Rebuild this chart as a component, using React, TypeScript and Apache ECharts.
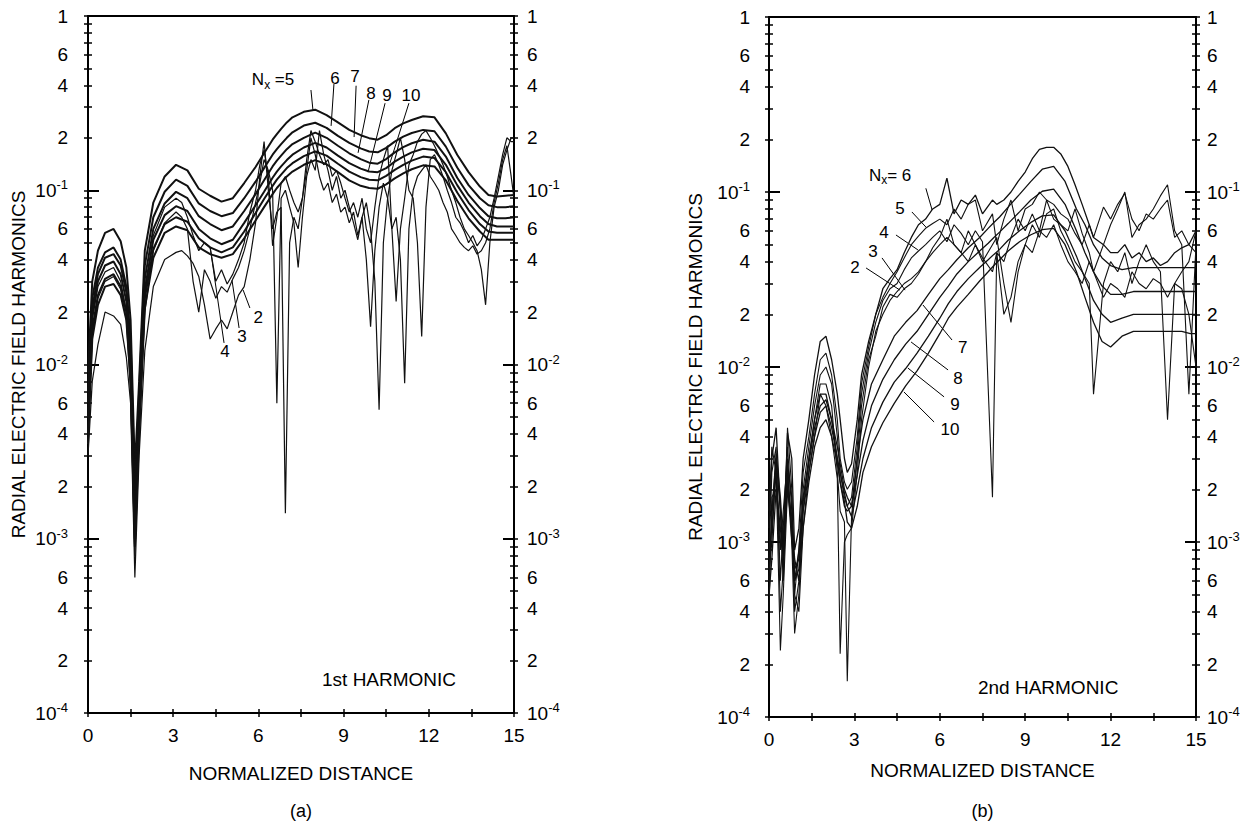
import React, { useEffect, useRef } from 'react';
import * as echarts from 'echarts';

const FONT = '"Liberation Sans", Arial, sans-serif';

// ---------- Panel (a): 1st harmonic ----------
// smooth family N_x = 5..10
const xA = [0, 0.15, 0.35, 0.6, 0.9, 1.15, 1.35, 1.5, 1.65, 1.8, 2.0, 2.3, 2.7, 3.1, 3.5, 3.9, 4.3, 4.7, 5.1, 5.5, 5.9, 6.2, 6.5, 6.65, 6.8, 7.0, 7.2, 7.6, 8.0, 8.4, 8.8, 9.2, 9.6, 9.9, 10.2, 10.5, 10.8, 11.1, 11.4, 11.8, 12.2, 12.6, 13.0, 13.4, 13.8, 14.1, 14.4, 14.7, 15.0];
const a5 = [0.009, 0.03, 0.045, 0.057, 0.06, 0.051, 0.036, 0.018, 0.0025, 0.008, 0.045, 0.085, 0.12, 0.14, 0.13, 0.102, 0.093, 0.086, 0.09, 0.11, 0.136, 0.163, 0.195, 0.21, 0.225, 0.245, 0.262, 0.282, 0.29, 0.27, 0.245, 0.222, 0.207, 0.199, 0.195, 0.207, 0.227, 0.242, 0.253, 0.266, 0.262, 0.212, 0.16, 0.127, 0.105, 0.094, 0.092, 0.093, 0.094];
const a6 = [0.007, 0.024, 0.036, 0.044, 0.047, 0.04, 0.028, 0.014, 0.0018, 0.007, 0.037, 0.07, 0.098, 0.115, 0.106, 0.084, 0.076, 0.071, 0.074, 0.09, 0.112, 0.134, 0.16, 0.172, 0.184, 0.2, 0.215, 0.235, 0.244, 0.228, 0.205, 0.187, 0.174, 0.167, 0.165, 0.175, 0.19, 0.203, 0.213, 0.222, 0.218, 0.178, 0.135, 0.107, 0.09, 0.082, 0.08, 0.08, 0.081];
const a7 = [0.006, 0.021, 0.033, 0.041, 0.043, 0.037, 0.026, 0.012, 0.0015, 0.006, 0.031, 0.06, 0.084, 0.098, 0.09, 0.071, 0.064, 0.059, 0.062, 0.076, 0.095, 0.114, 0.137, 0.148, 0.158, 0.172, 0.184, 0.2, 0.214, 0.2, 0.18, 0.163, 0.151, 0.144, 0.142, 0.151, 0.165, 0.177, 0.186, 0.195, 0.19, 0.156, 0.118, 0.094, 0.079, 0.071, 0.069, 0.069, 0.07];
const a8 = [0.005, 0.019, 0.03, 0.037, 0.039, 0.033, 0.023, 0.011, 0.0012, 0.005, 0.027, 0.052, 0.072, 0.081, 0.076, 0.06, 0.053, 0.049, 0.052, 0.065, 0.082, 0.098, 0.118, 0.128, 0.137, 0.149, 0.16, 0.176, 0.187, 0.176, 0.158, 0.143, 0.133, 0.128, 0.127, 0.134, 0.146, 0.156, 0.165, 0.173, 0.17, 0.14, 0.107, 0.085, 0.071, 0.064, 0.062, 0.062, 0.062];
const a9 = [0.004, 0.016, 0.025, 0.031, 0.033, 0.028, 0.02, 0.009, 0.001, 0.0045, 0.024, 0.046, 0.064, 0.07, 0.066, 0.053, 0.047, 0.044, 0.047, 0.058, 0.074, 0.089, 0.106, 0.115, 0.123, 0.134, 0.143, 0.157, 0.167, 0.158, 0.142, 0.128, 0.119, 0.115, 0.114, 0.121, 0.131, 0.14, 0.148, 0.156, 0.153, 0.127, 0.097, 0.077, 0.064, 0.058, 0.057, 0.057, 0.057];
const a10 = [0.0035, 0.014, 0.022, 0.028, 0.029, 0.025, 0.018, 0.008, 0.0009, 0.004, 0.021, 0.041, 0.057, 0.062, 0.059, 0.047, 0.043, 0.041, 0.043, 0.053, 0.067, 0.08, 0.095, 0.103, 0.11, 0.12, 0.128, 0.14, 0.149, 0.141, 0.127, 0.114, 0.106, 0.103, 0.102, 0.108, 0.117, 0.125, 0.132, 0.139, 0.137, 0.114, 0.087, 0.069, 0.058, 0.052, 0.052, 0.052, 0.052];

// noisy curves N_x = 2..4 (finer sampling)
const xAn = [
  0, 0.15, 0.35, 0.6, 0.9, 1.15, 1.35, 1.5, 1.65, 1.8, 2.0, 2.3, 2.7, 3.1,
  3.3, 3.5, 3.7, 3.9, 4.1, 4.3, 4.5, 4.7, 4.9, 5.1, 5.3, 5.5, 5.7, 5.9,
  6.05, 6.2, 6.35, 6.5, 6.65, 6.8, 6.95, 7.1, 7.25, 7.4,
  7.55, 7.7, 7.85, 8.0, 8.15, 8.3, 8.45, 8.6, 8.75, 8.9,
  9.05, 9.2, 9.35, 9.5, 9.65, 9.8, 9.95, 10.1, 10.25, 10.4,
  10.55, 10.7, 10.85, 11.0, 11.15, 11.3, 11.45, 11.6, 11.75, 11.9,
  12.05, 12.2, 12.35, 12.5, 12.65, 12.8, 12.95, 13.1, 13.25, 13.4,
  13.55, 13.7, 13.85, 14.0, 14.15, 14.3, 14.45, 14.6, 14.75, 14.9,
  15.0,
];
const a2 = [
  0.003, 0.008, 0.013, 0.02, 0.019, 0.017, 0.011, 0.006, 0.0006, 0.003, 0.012, 0.028, 0.04, 0.044,
  0.045, 0.042, 0.038, 0.032, 0.022, 0.014, 0.016, 0.018, 0.016, 0.02, 0.025, 0.028, 0.04, 0.065,
  0.12, 0.19, 0.1, 0.06, 0.075, 0.08, 0.0014, 0.05, 0.07, 0.06,
  0.09, 0.13, 0.2, 0.16, 0.12, 0.1, 0.11, 0.085, 0.095, 0.075,
  0.08, 0.065, 0.075, 0.055, 0.07, 0.04, 0.0165, 0.045, 0.08, 0.11,
  0.09, 0.06, 0.07, 0.04, 0.0078, 0.06, 0.1, 0.12, 0.13, 0.14,
  0.12, 0.11, 0.1, 0.085, 0.075, 0.06, 0.055, 0.05, 0.047, 0.045,
  0.048, 0.043, 0.045, 0.05, 0.06, 0.085, 0.11, 0.15, 0.18, 0.12,
  0.09,
];
const a3 = [
  0.004, 0.015, 0.024, 0.03, 0.032, 0.027, 0.018, 0.007, 0.0008, 0.004, 0.02, 0.045, 0.065, 0.075,
  0.07, 0.06, 0.03, 0.02, 0.035, 0.03, 0.024, 0.028, 0.026, 0.031, 0.036, 0.045, 0.06, 0.085,
  0.11, 0.15, 0.13, 0.1, 0.006, 0.09, 0.1, 0.08, 0.065, 0.036,
  0.07, 0.12, 0.15, 0.13, 0.22, 0.16, 0.13, 0.1, 0.12, 0.09,
  0.1, 0.08, 0.065, 0.052, 0.07, 0.085, 0.06, 0.03, 0.0055, 0.05,
  0.09, 0.13, 0.16, 0.2, 0.15, 0.1, 0.09, 0.05, 0.0145, 0.08,
  0.15, 0.16, 0.14, 0.12, 0.1, 0.085, 0.07, 0.065, 0.058, 0.05,
  0.055, 0.048, 0.052, 0.06, 0.07, 0.09, 0.12, 0.16, 0.2, 0.19,
  0.19,
];
const a4 = [
  0.005, 0.018, 0.028, 0.034, 0.036, 0.03, 0.02, 0.009, 0.001, 0.005, 0.025, 0.055, 0.08, 0.09,
  0.085, 0.07, 0.055, 0.045, 0.05, 0.047, 0.03, 0.035, 0.029, 0.033, 0.04, 0.05, 0.075, 0.1,
  0.14, 0.17, 0.12, 0.048, 0.07, 0.11, 0.12, 0.1, 0.085, 0.075,
  0.09, 0.15, 0.22, 0.19, 0.16, 0.14, 0.15, 0.12, 0.13, 0.11,
  0.09, 0.075, 0.085, 0.07, 0.09, 0.06, 0.05, 0.08, 0.12, 0.15,
  0.18, 0.06, 0.023, 0.06, 0.09, 0.14, 0.16, 0.19, 0.21, 0.22,
  0.2, 0.18, 0.16, 0.14, 0.12, 0.1, 0.085, 0.07, 0.06, 0.055,
  0.05, 0.045, 0.035, 0.022, 0.05, 0.08, 0.1, 0.14, 0.17, 0.2,
  0.2,
];

// ---------- Panel (b): 2nd harmonic ----------
// smooth family N_x = 7..10
const xB = [0, 0.1, 0.25, 0.4, 0.5, 0.65, 0.8, 0.9, 1.05, 1.2, 1.4, 1.6, 1.8, 2.0, 2.2, 2.4, 2.5, 2.65, 2.75, 2.9, 3.1, 3.3, 3.6, 4.0, 4.4, 4.8, 5.2, 5.6, 6.0, 6.3, 6.6, 7.0, 7.4, 7.7, 7.9, 8.1, 8.4, 8.8, 9.2, 9.6, 10.0, 10.4, 10.8, 11.1, 11.4, 11.7, 12.0, 12.4, 12.8, 13.2, 13.6, 14.0, 14.2, 14.5, 14.8, 15.0];
const b7 = [0.0007, 0.001, 0.003, 0.0015, 0.0006, 0.0028, 0.0018, 0.0006, 0.0007, 0.0018, 0.003, 0.005, 0.007, 0.007, 0.005, 0.003, 0.0022, 0.0016, 0.0015, 0.0016, 0.003, 0.005, 0.008, 0.011, 0.015, 0.018, 0.021, 0.026, 0.032, 0.036, 0.041, 0.048, 0.055, 0.062, 0.067, 0.072, 0.082, 0.097, 0.115, 0.135, 0.14, 0.115, 0.08, 0.065, 0.05, 0.042, 0.038, 0.036, 0.037, 0.037, 0.037, 0.037, 0.037, 0.037, 0.037, 0.037];
const b8 = [0.0006, 0.0014, 0.0032, 0.0018, 0.001, 0.0025, 0.0012, 0.0006, 0.0009, 0.0017, 0.0028, 0.0045, 0.006, 0.0065, 0.005, 0.0035, 0.0028, 0.002, 0.0018, 0.0016, 0.0024, 0.0038, 0.006, 0.0085, 0.011, 0.0135, 0.016, 0.02, 0.025, 0.029, 0.034, 0.04, 0.046, 0.051, 0.055, 0.059, 0.066, 0.077, 0.09, 0.101, 0.104, 0.085, 0.06, 0.045, 0.035, 0.029, 0.026, 0.026, 0.027, 0.027, 0.027, 0.027, 0.027, 0.027, 0.027, 0.027];
const b9 = [0.0009, 0.0012, 0.0025, 0.001, 0.0009, 0.0022, 0.001, 0.0007, 0.0008, 0.0015, 0.0025, 0.004, 0.0055, 0.006, 0.0045, 0.003, 0.0025, 0.0019, 0.0016, 0.0014, 0.002, 0.003, 0.0045, 0.0063, 0.0082, 0.0098, 0.012, 0.015, 0.019, 0.023, 0.027, 0.032, 0.037, 0.041, 0.044, 0.047, 0.053, 0.06, 0.067, 0.073, 0.074, 0.06, 0.043, 0.032, 0.024, 0.02, 0.018, 0.019, 0.02, 0.02, 0.02, 0.02, 0.02, 0.02, 0.02, 0.02];
const b10 = [0.0005, 0.0008, 0.002, 0.0012, 0.0008, 0.002, 0.0014, 0.0008, 0.0006, 0.0012, 0.0022, 0.0035, 0.0045, 0.005, 0.004, 0.0028, 0.0022, 0.0017, 0.0013, 0.0012, 0.0016, 0.0025, 0.0035, 0.0048, 0.0062, 0.0078, 0.0095, 0.012, 0.0155, 0.019, 0.022, 0.026, 0.031, 0.035, 0.038, 0.041, 0.046, 0.052, 0.057, 0.061, 0.062, 0.05, 0.035, 0.025, 0.018, 0.014, 0.013, 0.015, 0.016, 0.016, 0.016, 0.016, 0.016, 0.016, 0.0155, 0.0155];

// noisy curves N_x = 2..6 (finer sampling)
const xBn = [
  0, 0.1, 0.25, 0.4, 0.5, 0.65, 0.8, 0.9, 1.05, 1.2, 1.4, 1.6, 1.8, 2.0, 2.2, 2.4, 2.5, 2.65, 2.75, 2.9, 3.1,
  3.25, 3.5, 3.75, 4.0, 4.25, 4.5, 4.75, 5.0, 5.25, 5.5,
  5.75, 6.0, 6.25, 6.5, 6.75, 7.0, 7.25, 7.5, 7.85, 8.0,
  8.25, 8.5, 8.75, 9.0, 9.25, 9.5, 9.75, 10.0, 10.25, 10.5,
  10.75, 11.0, 11.25, 11.4, 11.75, 12.0, 12.25, 12.5, 12.75, 13.0,
  13.25, 13.5, 13.75, 14.0, 14.25, 14.5, 14.75, 15.0,
];
const b2 = [
  0.0015, 0.0035, 0.0025, 0.00024, 0.0005, 0.002, 0.0012, 0.0005, 0.0004, 0.0012, 0.0025, 0.004, 0.007, 0.006, 0.004, 0.0023, 0.00023, 0.001, 0.0011, 0.0012, 0.0025,
  0.005, 0.01, 0.016, 0.02, 0.024, 0.027, 0.03, 0.032, 0.035, 0.04,
  0.045, 0.05, 0.055, 0.05, 0.045, 0.04, 0.05, 0.042, 0.035, 0.045,
  0.02, 0.025, 0.04, 0.05, 0.045, 0.06, 0.055, 0.065, 0.05, 0.04,
  0.035, 0.03, 0.04, 0.035, 0.025, 0.03, 0.028, 0.025, 0.035, 0.03,
  0.028, 0.032, 0.03, 0.025, 0.03, 0.028, 0.02, 0.01,
];
const b3 = [
  0.0004, 0.0018, 0.002, 0.0009, 0.0015, 0.003, 0.001, 0.0003, 0.0005, 0.0015, 0.003, 0.005, 0.008, 0.008, 0.006, 0.0025, 0.0015, 0.0013, 0.00016, 0.0014, 0.003,
  0.006, 0.011, 0.015, 0.022, 0.026, 0.025, 0.028, 0.03, 0.034, 0.04,
  0.048, 0.055, 0.07, 0.05, 0.045, 0.06, 0.05, 0.04, 0.05, 0.055,
  0.03, 0.018, 0.035, 0.05, 0.065, 0.055, 0.075, 0.08, 0.06, 0.05,
  0.04, 0.035, 0.03, 0.007, 0.03, 0.04, 0.035, 0.045, 0.03, 0.04,
  0.05, 0.04, 0.035, 0.005, 0.03, 0.035, 0.04, 0.06,
];
const b4 = [
  0.0008, 0.0025, 0.0035, 0.0004, 0.0007, 0.0045, 0.002, 0.0004, 0.0006, 0.002, 0.0035, 0.006, 0.009, 0.01, 0.008, 0.004, 0.0025, 0.0018, 0.0016, 0.0018, 0.0035,
  0.007, 0.012, 0.018, 0.024, 0.028, 0.03, 0.036, 0.042, 0.046, 0.05,
  0.055, 0.06, 0.052, 0.065, 0.058, 0.05, 0.06, 0.052, 0.0018, 0.045,
  0.04, 0.055, 0.07, 0.06, 0.075, 0.06, 0.09, 0.07, 0.065, 0.06,
  0.08, 0.058, 0.045, 0.035, 0.05, 0.065, 0.08, 0.1, 0.055, 0.065,
  0.07, 0.08, 0.095, 0.11, 0.06, 0.05, 0.007, 0.05,
];
const b5 = [
  0.002, 0.0015, 0.003, 0.0006, 0.0012, 0.0035, 0.0015, 0.0005, 0.0009, 0.0025, 0.004, 0.007, 0.011, 0.012, 0.009, 0.005, 0.003, 0.0022, 0.002, 0.0022, 0.004,
  0.008, 0.013, 0.02, 0.025, 0.03, 0.035, 0.042, 0.05, 0.056, 0.062,
  0.066, 0.07, 0.065, 0.08, 0.07, 0.085, 0.09, 0.06, 0.075, 0.05,
  0.07, 0.09, 0.06, 0.08, 0.085, 0.1, 0.09, 0.085, 0.075, 0.07,
  0.058, 0.05, 0.065, 0.055, 0.082, 0.07, 0.085, 0.098, 0.07, 0.06,
  0.075, 0.07, 0.08, 0.09, 0.055, 0.06, 0.05, 0.045,
];
const b6 = [
  0.0012, 0.003, 0.0045, 0.0015, 0.0009, 0.0042, 0.003, 0.0009, 0.0012, 0.003, 0.005, 0.009, 0.014, 0.015, 0.011, 0.007, 0.005, 0.003, 0.0025, 0.0028, 0.005,
  0.009, 0.014, 0.02, 0.028, 0.032, 0.036, 0.045, 0.055, 0.065, 0.07,
  0.08, 0.085, 0.12, 0.075, 0.09, 0.085, 0.096, 0.075, 0.09, 0.085,
  0.09, 0.1, 0.115, 0.13, 0.155, 0.175, 0.18, 0.18, 0.165, 0.14,
  0.11, 0.085, 0.065, 0.055, 0.05, 0.045, 0.045, 0.05, 0.042, 0.045,
  0.04, 0.042, 0.038, 0.04, 0.045, 0.048, 0.05, 0.06,
];

// ---------- ticks / labels ----------
const xTickVals = [0, 1.5, 3, 4.5, 6, 7.5, 9, 10.5, 12, 13.5, 15];
const xLabelVals = [0, 3, 6, 9, 12, 15];
const yDecades = [-4, -3, -2, -1, 0];
const yMinorMantissas = [2, 3, 4, 5, 6, 7, 8, 9];
const yLabelMantissas = [2, 4, 6];

// ---------- annotations (data coordinates) ----------
const labelsA: [string, number, number, string][] = [
  ['{n|N}{s|x}{n| =5}', 5.77, 0.43, 'left'],
  ['6', 8.7, 0.44, 'center'],
  ['7', 9.4, 0.45, 'center'],
  ['8', 9.96, 0.36, 'center'],
  ['9', 10.53, 0.35, 'center'],
  ['10', 11.37, 0.35, 'center'],
  ['2', 5.99, 0.0185, 'center'],
  ['3', 5.42, 0.0144, 'center'],
  ['4', 4.82, 0.0118, 'center'],
];
const leadersA: [number, number, number, number][] = [
  [7.85, 0.376, 7.92, 0.289],
  [8.66, 0.407, 8.56, 0.234],
  [9.44, 0.398, 9.37, 0.202],
  [9.89, 0.33, 9.51, 0.164],
  [10.46, 0.316, 9.86, 0.127],
  [11.3, 0.316, 10.63, 0.143],
  [5.7, 0.0211, 5.46, 0.0268],
  [5.32, 0.0162, 5.07, 0.0305],
  [4.79, 0.0133, 4.3, 0.0472],
];
const labelsB: [string, number, number, string][] = [
  ['{n|N}{s|x}{n|= 6}', 3.51, 0.125, 'left'],
  ['5', 4.6, 0.081, 'center'],
  ['4', 4.04, 0.059, 'center'],
  ['3', 3.65, 0.046, 'center'],
  ['2', 3.02, 0.0372, 'center'],
  ['7', 6.81, 0.013, 'center'],
  ['8', 6.64, 0.00865, 'center'],
  ['9', 6.53, 0.00607, 'center'],
  ['10', 6.36, 0.00437, 'center'],
];
const leadersB: [number, number, number, number][] = [
  [5.51, 0.105, 5.73, 0.0789],
  [5.02, 0.0769, 5.51, 0.0631],
  [4.46, 0.0568, 5.23, 0.0467],
  [3.97, 0.042, 4.78, 0.0275],
  [3.41, 0.0368, 4.6, 0.0275],
  [6.43, 0.01426, 5.41, 0.0226],
  [6.29, 0.00962, 4.99, 0.0139],
  [6.15, 0.00675, 4.88, 0.00986],
  [5.8, 0.00485, 4.74, 0.0072],
];
const captions: [string, number, number, number][] = [
  ['1st HARMONIC', 0, 8.24, 0.000155],
  ['2nd HARMONIC', 1, 7.34, 0.000147],
];

export default function App() {
  const ref = useRef<HTMLDivElement>(null);
  useEffect(() => {
    if (!ref.current) return;
    const chart = echarts.init(ref.current, undefined, { renderer: 'svg' });

    const yMinor: number[] = [];
    const yLabels: number[] = [];
    yDecades.forEach((n) => {
      yMinor.push(n);
      yLabels.push(n);
      if (n < 0) {
        yMinorMantissas.forEach((k) => yMinor.push(n + Math.log10(k)));
        yLabelMantissas.forEach((k) => yLabels.push(n + Math.log10(k)));
      }
    });
    const fmtY = (v: number) => {
      const e = Math.round(v);
      if (Math.abs(v - e) < 1e-6) return e === 0 ? '{b|1}' : `{b|10}{s|${e}}`;
      const f = Math.floor(v);
      return `{b|${Math.round(Math.pow(10, v - f))}}`;
    };
    const rich = {
      b: { fontSize: 19, fontFamily: FONT, color: '#000', lineHeight: 24 },
      s: { fontSize: 13, fontFamily: FONT, color: '#000', lineHeight: 13, verticalAlign: 'top' },
    };
    const black = '#000';
    const nameStyle = { fontSize: 19, fontFamily: FONT, color: black };

    const xAxes = (g: number) => {
      const c = { type: 'value', gridIndex: g, min: 0, max: 15, splitLine: { show: false } };
      return [
        {
          ...c, position: 'bottom',
          axisLine: { show: true, onZero: false, lineStyle: { color: black, width: 2 } },
          axisTick: { show: true, customValues: xTickVals, length: 4, lineStyle: { color: black, width: 1.5 } },
          axisLabel: { show: true, customValues: xLabelVals, margin: 13, fontSize: 19, fontFamily: FONT, color: black },
          name: 'NORMALIZED DISTANCE', nameLocation: 'middle', nameGap: g === 0 ? 51 : 44, nameTextStyle: nameStyle,
        },
        {
          ...c, position: 'bottom',
          axisLine: { show: false, onZero: false },
          axisTick: { show: true, inside: true, customValues: xTickVals, length: 4, lineStyle: { color: black, width: 1.5 } },
          axisLabel: { show: false },
        },
        {
          ...c, position: 'top',
          axisLine: { show: true, onZero: false, lineStyle: { color: black, width: 2 } },
          axisTick: { show: false }, axisLabel: { show: false },
        },
      ];
    };
    const yAxes = (g: number) => {
      const c = { type: 'value', gridIndex: g, min: -4, max: 0, splitLine: { show: false } };
      const tl = { color: black, width: 1.5 };
      const side = (pos: string, margin: number, named: boolean) => [
        {
          ...c, position: pos,
          axisLine: { show: true, onZero: false, lineStyle: { color: black, width: 2 } },
          axisTick: { show: true, customValues: yMinor, length: 4, lineStyle: tl },
          axisLabel: { show: true, customValues: yLabels, formatter: fmtY, rich, margin },
          ...(named
            ? { name: 'RADIAL ELECTRIC FIELD HARMONICS', nameLocation: 'middle', nameGap: g === 0 ? 60 : 64, nameRotate: 90, nameTextStyle: nameStyle }
            : {}),
        },
        {
          ...c, position: pos,
          axisLine: { show: false, onZero: false },
          axisTick: { show: true, inside: true, customValues: yMinor, length: 4, lineStyle: tl },
          axisLabel: { show: false },
        },
        {
          ...c, position: pos,
          axisLine: { show: false, onZero: false },
          axisTick: { show: true, inside: true, customValues: [-3, -2, -1], length: 11, lineStyle: { color: black, width: 2 } },
          axisLabel: { show: false },
        },
      ];
      return [...side('left', g === 0 ? 20 : 19, true), ...side('right', g === 0 ? 13 : 11, false)];
    };

    const mk = (xs: number[], ys: number[], g: number, w: number) => ({
      type: 'line',
      xAxisIndex: 3 * g,
      yAxisIndex: 6 * g,
      data: xs.map((x, i) => [x, Math.log10(ys[i])]),
      symbol: 'none',
      showSymbol: false,
      silent: true,
      lineStyle: { color: '#111', width: w },
      z: 3,
    });

    const series = [
      mk(xAn, a2, 0, 1.2), mk(xAn, a3, 0, 1.2), mk(xAn, a4, 0, 1.2),
      mk(xA, a5, 0, 2), mk(xA, a6, 0, 2), mk(xA, a7, 0, 2), mk(xA, a8, 0, 2), mk(xA, a9, 0, 2), mk(xA, a10, 0, 2),
      mk(xBn, b2, 1, 1.1), mk(xBn, b3, 1, 1.1), mk(xBn, b4, 1, 1.1), mk(xBn, b5, 1, 1.1), mk(xBn, b6, 1, 1.3),
      mk(xB, b7, 1, 1.3), mk(xB, b8, 1, 1.3), mk(xB, b9, 1, 1.3), mk(xB, b10, 1, 1.3),
    ];

    chart.setOption({
      animation: false,
      backgroundColor: '#fff',
      grid: [
        { left: 88, top: 16, width: 426, height: 697 },
        { left: 769, top: 17, width: 427, height: 700 },
      ],
      xAxis: [...xAxes(0), ...xAxes(1)],
      yAxis: [...yAxes(0), ...yAxes(1)],
      series,
    } as any);

    const toPx = (g: number, x: number, v: number) =>
      chart.convertToPixel({ xAxisIndex: 3 * g, yAxisIndex: 6 * g } as any, [x, Math.log10(v)]) as number[];

    const labRich = {
      n: { fontSize: 17, fontFamily: FONT, fill: '#000', lineHeight: 22 },
      s: { fontSize: 12, fontFamily: FONT, fill: '#000', lineHeight: 12, verticalAlign: 'bottom' },
    };
    const graphic: any[] = [];
    const addLabels = (g: number, labels: [string, number, number, string][], leaders: [number, number, number, number][]) => {
      labels.forEach(([t, x, v, al]) => {
        const p = toPx(g, x, v);
        graphic.push({
          type: 'text', x: p[0], y: p[1], silent: true,
          style: { text: t.startsWith('{') ? t : `{n|${t}}`, rich: labRich, align: al, textAlign: al, verticalAlign: 'middle', textVerticalAlign: 'middle', fill: '#000' },
        });
      });
      leaders.forEach(([x1, v1, x2, v2]) => {
        const p1 = toPx(g, x1, v1);
        const p2 = toPx(g, x2, v2);
        graphic.push({ type: 'line', silent: true, shape: { x1: p1[0], y1: p1[1], x2: p2[0], y2: p2[1] }, style: { stroke: '#000', lineWidth: 1 } });
      });
    };
    addLabels(0, labelsA, leadersA);
    addLabels(1, labelsB, leadersB);
    captions.forEach(([t, g, x, v]) => {
      const p = toPx(g, x, v);
      graphic.push({ type: 'text', x: p[0], y: p[1], silent: true, style: { text: t, font: `19px ${FONT}`, fill: '#000', align: 'left', verticalAlign: 'middle' } });
    });
    ['(a)', '(b)'].forEach((t, g) => {
      const p = toPx(g, 7.5, 0.0001);
      graphic.push({ type: 'text', x: p[0], y: 811, silent: true, style: { text: t, font: `18px ${FONT}`, fill: '#000', align: 'center', verticalAlign: 'middle' } });
    });
    chart.setOption({ graphic } as any);

    return () => chart.dispose();
  }, []);
  return (
    <div
      ref={ref}
      style={{ position: 'absolute', left: 0, top: 0, width: 1245, height: 825, background: '#fff' }}
    />
  );
}
